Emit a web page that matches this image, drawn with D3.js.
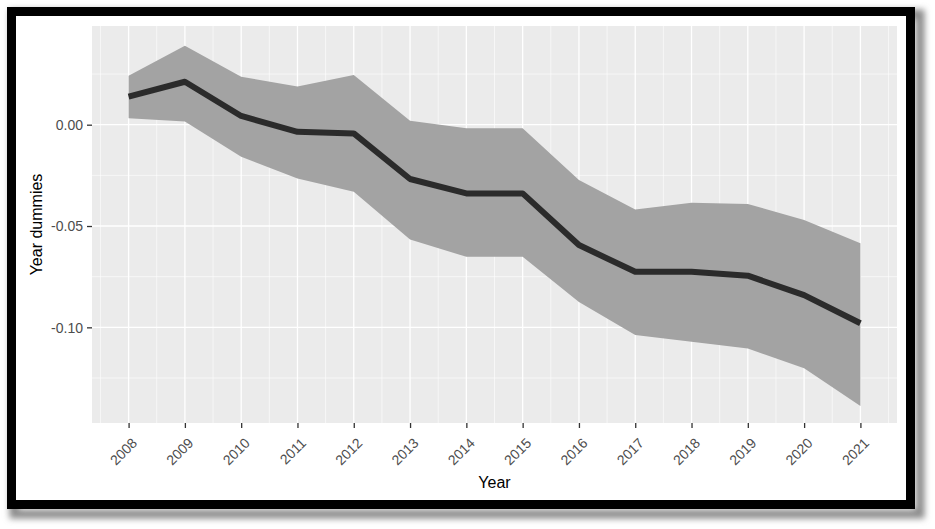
<!DOCTYPE html>
<html>
<head>
<meta charset="utf-8">
<script src="https://cdn.jsdelivr.net/npm/d3@7"></script>
<style>
  html, body { margin: 0; padding: 0; background: #ffffff; }
  svg { display: block; font-family: "Liberation Sans", Arial, sans-serif; }
</style>
</head>
<body>
<svg id="chart" width="935" height="529"></svg>
<script>
// ---- data ----
const years = [2008, 2009, 2010, 2011, 2012, 2013, 2014, 2015, 2016, 2017, 2018, 2019, 2020, 2021];
const estimate = [0.0138, 0.0212, 0.0043, -0.0035, -0.0043, -0.0268, -0.0339, -0.0339, -0.0594, -0.0726, -0.0726, -0.0745, -0.0841, -0.0980];
const upper = [0.0242, 0.0390, 0.0237, 0.0188, 0.0245, 0.0020, -0.0018, -0.0018, -0.0273, -0.0418, -0.0385, -0.0391, -0.0470, -0.0585];
const lower = [0.0032, 0.0016, -0.0158, -0.0265, -0.0331, -0.0566, -0.0652, -0.0652, -0.0875, -0.1038, -0.1071, -0.1104, -0.1202, -0.1388];
const yTicks = [0.00, -0.05, -0.10];
const yMinorTicks = [0.025, -0.025, -0.075, -0.125];
const xTickLabels = years.map(String);
const xTitle = "Year";
const yTitle = "Year dummies";

const rows = years.map((y, i) => ({ year: y, est: estimate[i], hi: upper[i], lo: lower[i] }));

const svg = d3.select("#chart");

// ---- frame with shadow ----
const defs = svg.append("defs");
const f = defs.append("filter").attr("id", "shadow").attr("x", "-5%").attr("y", "-5%").attr("width", "110%").attr("height", "115%");
f.append("feGaussianBlur").attr("stdDeviation", 3);
svg.append("rect").attr("x", 14).attr("y", 14).attr("width", 906).attr("height", 500)
  .attr("fill", "none").attr("stroke", "#8a8a8a").attr("stroke-width", 9).attr("filter", "url(#shadow)");
svg.append("rect").attr("x", 11.5).attr("y", 11.5).attr("width", 899).attr("height", 493)
  .attr("fill", "#ffffff").attr("stroke", "#000000").attr("stroke-width", 9);

// ---- panel ----
const panel = { left: 92, right: 897, top: 26, bottom: 423 };
const xPad = 0.05 * (d3.max(years) - d3.min(years));
const x = d3.scaleLinear().domain([d3.min(years) - xPad, d3.max(years) + xPad]).range([panel.left, panel.right]);
const y = d3.scaleLinear().domain([-0.1472, 0.0487]).range([panel.bottom, panel.top]);

svg.append("rect").attr("x", panel.left).attr("y", panel.top)
  .attr("width", panel.right - panel.left).attr("height", panel.bottom - panel.top).attr("fill", "#ebebeb");

const grid = svg.append("g");
const minorX = years.slice(0, -1).map(v => v + 0.5);
minorX.push(d3.min(years) - 0.5 + 0.0, d3.max(years) + 0.5);
grid.selectAll(".mx").data(minorX.filter(v => x(v) >= panel.left && x(v) <= panel.right)).join("line")
  .attr("x1", d => x(d)).attr("x2", d => x(d)).attr("y1", panel.top).attr("y2", panel.bottom)
  .attr("stroke", "#ffffff").attr("stroke-width", 0.6);
grid.selectAll(".my").data(yMinorTicks).join("line")
  .attr("x1", panel.left).attr("x2", panel.right).attr("y1", d => y(d)).attr("y2", d => y(d))
  .attr("stroke", "#ffffff").attr("stroke-width", 0.6);
grid.selectAll(".Mx").data(years).join("line")
  .attr("x1", d => x(d)).attr("x2", d => x(d)).attr("y1", panel.top).attr("y2", panel.bottom)
  .attr("stroke", "#ffffff").attr("stroke-width", 1.3);
grid.selectAll(".My").data(yTicks).join("line")
  .attr("x1", panel.left).attr("x2", panel.right).attr("y1", d => y(d)).attr("y2", d => y(d))
  .attr("stroke", "#ffffff").attr("stroke-width", 1.3);

// ---- ribbon & line ----
svg.append("path").datum(rows)
  .attr("d", d3.area().x(d => x(d.year)).y0(d => y(d.lo)).y1(d => y(d.hi)))
  .attr("fill", "#a3a3a3");
svg.append("path").datum(rows)
  .attr("d", d3.line().x(d => x(d.year)).y(d => y(d.est)))
  .attr("fill", "none").attr("stroke", "#2b2b2b").attr("stroke-width", 6).attr("stroke-linejoin", "round");

// ---- axes ----
const xAxis = svg.append("g").attr("transform", `translate(0,${panel.bottom})`)
  .call(d3.axisBottom(x).tickValues(years).tickFormat((d, i) => xTickLabels[i]).tickSize(5).tickPadding(4));
xAxis.select(".domain").remove();
xAxis.selectAll(".tick line").attr("stroke", "#333333").attr("stroke-width", 1.3);
xAxis.selectAll(".tick text")
  .attr("fill", "#4d4d4d").attr("font-size", 14)
  .attr("text-anchor", "end").attr("y", 0).attr("dy", 0)
  .attr("transform", "translate(9,21) rotate(-45)");

const yAxis = svg.append("g").attr("transform", `translate(${panel.left},0)`)
  .call(d3.axisLeft(y).tickValues(yTicks).tickFormat(d3.format(".2f")).tickSize(5).tickPadding(4));
yAxis.select(".domain").remove();
yAxis.selectAll(".tick line").attr("stroke", "#333333").attr("stroke-width", 1.3);
yAxis.selectAll(".tick text").attr("fill", "#4d4d4d").attr("font-size", 14).attr("dy", "0.35em");
yAxis.selectAll(".tick text").text(d => d3.format(".2f")(d).replace("−", "-"));

// ---- titles ----
svg.append("text").attr("x", (panel.left + panel.right) / 2).attr("y", 488)
  .attr("text-anchor", "middle").attr("font-size", 16).attr("fill", "#000").text(xTitle);
svg.append("text").attr("transform", `translate(42,${(panel.top + panel.bottom) / 2}) rotate(-90)`)
  .attr("text-anchor", "middle").attr("font-size", 16).attr("fill", "#000").text(yTitle);
</script>
</body>
</html>
